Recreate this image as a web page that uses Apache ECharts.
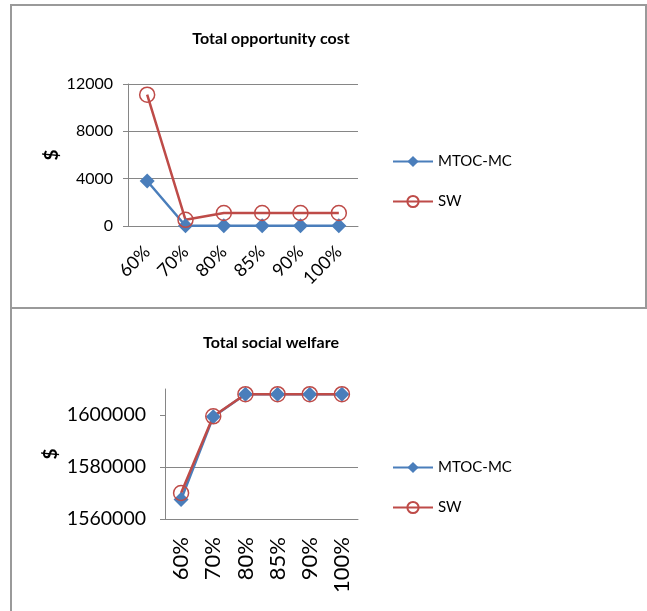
<!DOCTYPE html>
<html>
<head>
<meta charset="utf-8">
<script src="https://cdn.jsdelivr.net/npm/echarts@6/dist/echarts.min.js"></script>
<style>
  html, body { margin: 0; padding: 0; background: #fff; }
  #main { width: 647px; height: 611px; }
</style>
</head>
<body>
<div id="main"></div>
<script>
// categories and values
const categories = ['60%', '70%', '80%', '85%', '90%', '100%']
const costMtoc = [3800, 20, 20, 20, 20, 20]
const costSw = [11100, 520, 1100, 1100, 1100, 1100]
const welfareMtoc = [1567500, 1599300, 1608000, 1608000, 1608000, 1608000]
const welfareSw = [1570000, 1599500, 1608000, 1608000, 1608000, 1608000]
const costTicks = [0, 4000, 8000, 12000]
const welfareTicks = [1560000, 1580000, 1600000]

const FONT = 'Lato'
const BLUE = '#4a7ebb'
const RED = '#be4b48'
const GRID = '#868686'

const chart = echarts.init(document.getElementById('main'))

function yAxis(idx, min, max, interval, ticks, fontSize, margin, gap) {
  return {
    type: 'value',
    gridIndex: idx,
    min: min,
    max: max,
    interval: interval,
    name: '$',
    nameLocation: 'middle',
    nameRotate: 90,
    nameGap: gap,
    nameTextStyle: { fontFamily: FONT, fontWeight: 'bold', fontSize: 19, color: '#000' },
    axisLine: { show: true, lineStyle: { color: GRID, width: 1 } },
    axisTick: { show: true, length: 5, customValues: ticks, lineStyle: { color: GRID } },
    axisLabel: {
      customValues: ticks, fontFamily: FONT, fontSize: fontSize, color: '#000', margin: margin,
      formatter: (v) => String(v)
    },
    splitLine: { show: true, showMaxLine: idx === 0, lineStyle: { color: GRID, width: 1 } }
  }
}

function xAxis(idx, rotate, fontSize, margin) {
  return {
    type: 'category',
    gridIndex: idx,
    data: categories,
    boundaryGap: true,
    axisLine: { show: true, lineStyle: { color: GRID, width: 1 } },
    axisTick: { show: false },
    axisLabel: { rotate: rotate, interval: 0, fontFamily: FONT, fontSize: fontSize, color: '#000', margin: margin }
  }
}

function lineSeries(name, idx, data, isSw) {
  return {
    name: name,
    type: 'line',
    xAxisIndex: idx,
    yAxisIndex: idx,
    data: data,
    symbol: isSw ? 'circle' : 'diamond',
    symbolSize: 15,
    lineStyle: { color: isSw ? RED : BLUE, width: 2.5 },
    itemStyle: isSw
      ? { color: 'rgba(255,255,255,0)', borderColor: RED, borderWidth: 1.5 }
      : { color: BLUE, borderColor: BLUE, borderWidth: 0 },
    emphasis: { disabled: true },
    animation: false
  }
}

function legend(top) {
  return {
    orient: 'vertical',
    left: 392,
    top: top,
    padding: 0,
    itemWidth: 40,
    itemHeight: 14,
    itemGap: 25,
    data: ['MTOC-MC', 'SW'],
    textStyle: { fontFamily: FONT, fontSize: 15, color: '#000' }
  }
}

chart.setOption({
  animation: false,
  backgroundColor: '#fff',
  title: [
    { text: 'Total opportunity cost', left: 271, top: 31, padding: 0, textAlign: 'center',
      textStyle: { fontFamily: FONT, fontWeight: 'bold', fontSize: 16, color: '#000' } },
    { text: 'Total social welfare', left: 271, top: 335, padding: 0, textAlign: 'center',
      textStyle: { fontFamily: FONT, fontWeight: 'bold', fontSize: 16, color: '#000' } }
  ],
  legend: [legend(154), legend(460)],
  grid: [
    { left: 128, top: 84, width: 230, height: 142 },
    { left: 165, top: 389, width: 193, height: 130 }
  ],
  xAxis: [xAxis(0, 45, 18, 23), xAxis(1, 90, 22, 18)],
  yAxis: [
    yAxis(0, 0, 12000, 4000, costTicks, 16, 15, 67),
    yAxis(1, 1560000, 1610000, 20000, welfareTicks, 19.5, 19, 105)
  ],
  series: [
    lineSeries('MTOC-MC', 0, costMtoc, false),
    lineSeries('SW', 0, costSw, true),
    lineSeries('MTOC-MC', 1, welfareMtoc, false),
    lineSeries('SW', 1, welfareSw, true)
  ],
  graphic: [
    { type: 'rect', silent: true, shape: { x: 11, y: 5, width: 635, height: 303 },
      style: { fill: 'none', stroke: '#9a9a9a', lineWidth: 2 } },
    { type: 'rect', silent: true, shape: { x: 11, y: 308, width: 700, height: 340 },
      style: { fill: 'none', stroke: '#9a9a9a', lineWidth: 2 } }
  ]
})
</script>
</body>
</html>
